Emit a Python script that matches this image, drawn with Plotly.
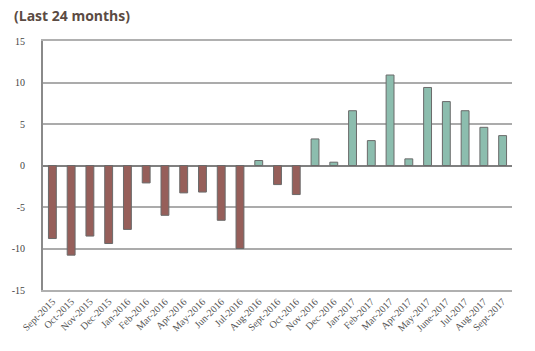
import plotly.graph_objects as go

months = ["Sept-2015", "Oct-2015", "Nov-2015", "Dec-2015", "Jan-2016", "Feb-2016",
          "Mar-2016", "Apr-2016", "May-2016", "Jun-2016", "Jul-2016", "Aug-2016",
          "Sept-2016", "Oct-2016", "Nov-2016", "Dec-2016", "Jan-2017", "Feb-2017",
          "Mar-2017", "Apr-2017", "May-2017", "June-2017", "Jul-2017", "Aug-2017",
          "Sept-2017"]
values = [-8.8, -10.8, -8.5, -9.4, -7.7, -2.1, -6.0, -3.3, -3.2, -6.6, -10.0, 0.6,
          -2.3, -3.5, 3.2, 0.4, 6.6, 3.0, 10.9, 0.8, 9.4, 7.7, 6.6, 4.6, 3.6]
y_ticks = [-15, -10, -5, 0, 5, 10, 15]

neg_color = "#965f5a"
pos_color = "#8cbdae"
colors = [pos_color if v >= 0 else neg_color for v in values]

fig = go.Figure(go.Bar(
    x=months, y=values,
    marker=dict(color=colors, line=dict(color="#6a6a6a", width=1)),
    width=0.42,
))

fig.update_layout(
    width=535, height=351,
    margin=dict(l=43, r=23, t=41, b=61),
    paper_bgcolor="white", plot_bgcolor="white",
    showlegend=False,
    annotations=[dict(
        text="<b>(Last 24 months)</b>", x=0, y=1, xref="paper", yref="paper",
        xanchor="left", yanchor="top", xshift=-31, yshift=37, showarrow=False,
        font=dict(family="Open Sans", size=14, color="#5b4b43"),
    )],
)
fig.update_xaxes(
    tickangle=-45, tickfont=dict(family="Liberation Serif", size=10, color="#555"),
    showgrid=False, showline=True, linecolor="#b0b0b0", linewidth=2, mirror=True,
    ticks="", zeroline=False,
)
fig.update_yaxes(
    range=[-15, 15], tickvals=y_ticks, ticktext=[str(t) for t in y_ticks],
    tickfont=dict(family="Liberation Serif", size=10, color="#444"),
    showgrid=True, gridcolor="#ababab", gridwidth=1.5,
    showline=True, linecolor="#8a8a8a", linewidth=2, mirror=False,
    zeroline=True, zerolinecolor="#808080", zerolinewidth=1.5,
    ticks="", ticklabelstandoff=14,
)
fig.write_html("out.html")
